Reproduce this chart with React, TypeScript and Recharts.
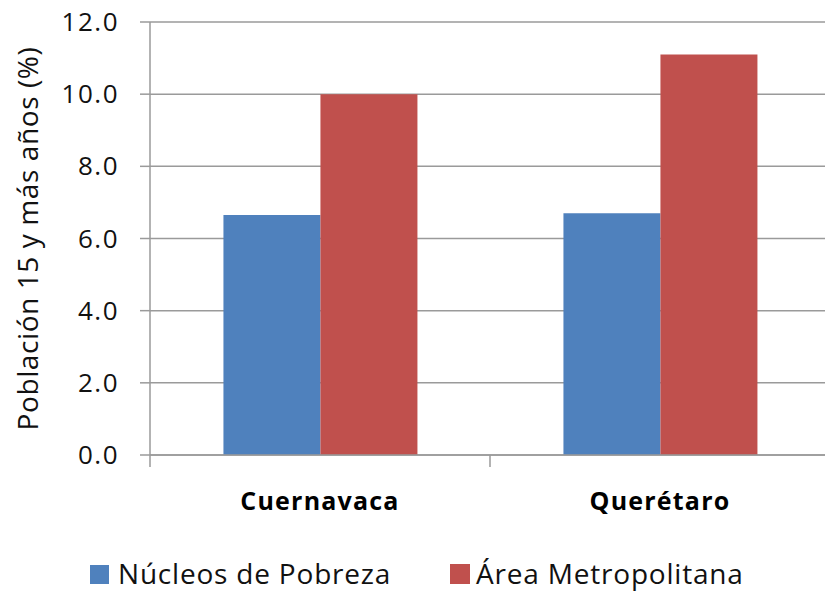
import React from 'react';
import { BarChart, Bar, XAxis, YAxis, CartesianGrid, Legend, Label } from 'recharts';

const categories = ['Cuernavaca', 'Querétaro'];
const nucleosPobreza = [6.65, 6.7];
const areaMetropolitana = [10.0, 11.1];
const yTicks = [0, 2, 4, 6, 8, 10, 12];
const seriesNames = ['Núcleos de Pobreza', 'Área Metropolitana'];
const seriesColors = ['#4F81BD', '#C0504D'];

const data = categories.map((c, i) => ({
  name: c,
  nucleos: nucleosPobreza[i],
  area: areaMetropolitana[i],
}));

const FONT = '"Open Sans", sans-serif';
const AXIS_GRAY = '#9a9a9a';

const XTick = (props: any) => {
  const { x, y, payload, index, visibleTicksCount } = props;
  const half = payload && typeof payload.offset === 'number' ? payload.offset : 170;
  const isLast = index === (visibleTicksCount ?? categories.length) - 1;
  return (
    <g>
      <line x1={x - half} x2={x - half} y1={y - 12} y2={y} stroke={AXIS_GRAY} strokeWidth={1.5} />
      {isLast && (
        <line x1={x + half} x2={x + half} y1={y - 12} y2={y} stroke={AXIS_GRAY} strokeWidth={1.5} />
      )}
      <text
        x={x}
        y={y + 43}
        textAnchor="middle"
        fontFamily={FONT}
        fontWeight={700}
        fontSize={25}
        letterSpacing={1.2}
        fill="#000"
      >
        {payload.value}
      </text>
    </g>
  );
};

const YTick = (props: any) => {
  const { x, y, payload } = props;
  return (
    <text
      x={x}
      y={y + 9}
      textAnchor="end"
      fontFamily={FONT}
      fontWeight={500}
      fontSize={26}
      letterSpacing={1.5}
      fill="#111"
    >
      {Number(payload.value).toFixed(1)}
    </text>
  );
};

const LegendContent = () => (
  <svg width={825} height={44} style={{ display: 'block' }}>
    <rect x={90} y={17} width={19} height={19} fill={seriesColors[0]} />
    <text x={118} y={36} fontFamily={FONT} fontWeight={500} fontSize={28} letterSpacing={0.8} fill="#111">
      {seriesNames[0]}
    </text>
    <rect x={450} y={16} width={20} height={20} fill={seriesColors[1]} />
    <text x={476} y={36} fontFamily={FONT} fontWeight={500} fontSize={28} letterSpacing={0.8} fill="#111">
      {seriesNames[1]}
    </text>
  </svg>
);

const YTitle = (props: any) => {
  const vb = props.viewBox || { x: 0, y: 22, width: 150, height: 433 };
  const cx = 38;
  const cy = vb.y + vb.height / 2;
  return (
    <text
      x={cx}
      y={cy}
      transform={`rotate(-90, ${cx}, ${cy})`}
      textAnchor="middle"
      fontFamily={FONT}
      fontWeight={500}
      fontSize={28}
      letterSpacing={0.6}
      fill="#111"
    >
      Población 15 y más años (%)
    </text>
  );
};

export default function App() {
  return (
    <div
      style={{
        position: 'absolute',
        left: 0,
        top: 0,
        width: 825,
        height: 592,
        overflow: 'hidden',
        background: '#fff',
      }}
    >
      <BarChart
        width={832}
        height={592}
        data={data}
        margin={{ top: 22, right: 2, bottom: 0, left: 0 }}
        barCategoryGap="21.6%"
        barGap={0}
      >
        <CartesianGrid vertical={false} stroke={AXIS_GRAY} strokeWidth={1.5} />
        <XAxis
          dataKey="name"
          height={137}
          tickSize={12}
          tickMargin={0}
          tickLine={false}
          axisLine={{ stroke: AXIS_GRAY, strokeWidth: 1.5 }}
          tick={<XTick />}
          interval={0}
        />
        <YAxis
          width={150}
          domain={[0, 12]}
          ticks={yTicks}
          interval={0}
          tickSize={10}
          tickMargin={21}
          tickLine={{ stroke: AXIS_GRAY, strokeWidth: 1.5 }}
          axisLine={{ stroke: AXIS_GRAY, strokeWidth: 1.5 }}
          tick={<YTick />}
        >
          <Label content={<YTitle />} />
        </YAxis>
        <Legend
          verticalAlign="middle"
          align="center"
          layout="horizontal"
          wrapperStyle={{ top: 548, left: 0, width: 825 }}
          content={<LegendContent />}
        />
        <Bar dataKey="nucleos" name={seriesNames[0]} fill={seriesColors[0]} isAnimationActive={false} />
        <Bar dataKey="area" name={seriesNames[1]} fill={seriesColors[1]} isAnimationActive={false} />
      </BarChart>
    </div>
  );
}
